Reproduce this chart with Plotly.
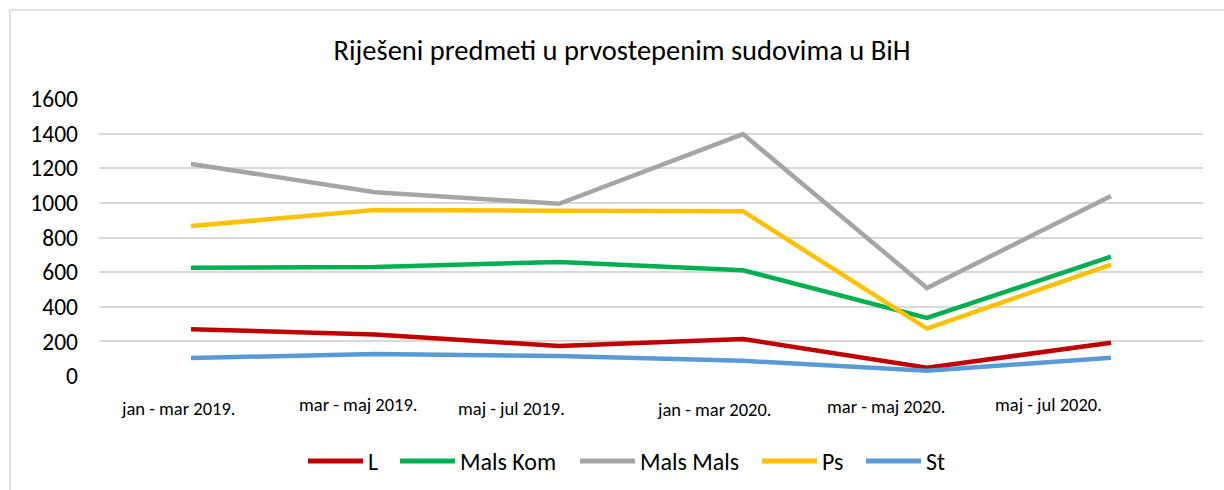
import plotly.graph_objects as go

categories = ["jan - mar 2019.", "mar - maj 2019.", "maj - jul 2019.",
              "jan - mar 2020.", "mar - maj 2020.", "maj - jul 2020."]
L = [270, 240, 173, 214, 48, 192]
mals_kom = [625, 630, 659, 611, 335, 690]
mals_mals = [1225, 1062, 995, 1397, 508, 1040]
ps = [866, 959, 955, 952, 274, 644]
st = [104, 127, 116, 88, 30, 106]
y_ticks = [0, 200, 400, 600, 800, 1000, 1200, 1400, 1600]

series_names = ["L", "Mals Kom", "Mals Mals", "Ps", "St"]
series_values = [L, mals_kom, mals_mals, ps, st]
series_colors = ["#C00000", "#00B050", "#A5A5A5", "#FFC000", "#5B9BD5"]

FONT = "Carlito, Calibri, Open Sans, sans-serif"

W, H = 1224, 490
PL, PT, PR, PB = 99, 99, 1203, 376
PW, PH = PR - PL, PB - PT


def px_x(x):
    return (x - PL) / PW


def px_y(y):
    return (PB - y) / PH


fig = go.Figure()
for name, vals, color in zip(series_names, series_values, series_colors):
    fig.add_trace(go.Scatter(x=categories, y=vals, name=name, mode="lines",
                             line=dict(color=color, width=4.5), showlegend=False))

# category label offsets (px) as in the reference
label_dx = [-13, -17, -48, -29, -41, -63]
label_dy = [32, 28, 32, 33, 30, 28]
annotations = []
for c, dx, dy in zip(categories, label_dx, label_dy):
    annotations.append(dict(x=c, y=0, xref="x", yref="paper", text=c, showarrow=False,
                            xshift=dx, yshift=-dy, yanchor="middle",
                            font=dict(family=FONT, size=18.5, color="#000000")))

# legend drawn like the reference (long line samples)
legend_left = [308, 400, 580, 762, 866]
legend_len = 55
legend_y = 461
shapes = []
for name, color, x0 in zip(series_names, series_colors, legend_left):
    shapes.append(dict(type="line", xref="paper", yref="paper",
                       x0=px_x(x0), x1=px_x(x0 + legend_len),
                       y0=px_y(legend_y), y1=px_y(legend_y),
                       line=dict(color=color, width=5)))
    annotations.append(dict(x=px_x(x0 + legend_len + 3), y=px_y(legend_y),
                            xref="paper", yref="paper", text=name, showarrow=False,
                            xanchor="left", yanchor="middle",
                            font=dict(family=FONT, size=24, color="#000000")))

# outer chart-area border (top and left visible)
shapes.append(dict(type="line", xref="paper", yref="paper",
                   x0=px_x(10), x1=px_x(W + 5), y0=px_y(10), y1=px_y(10),
                   line=dict(color="#D9D9D9", width=1.5)))
shapes.append(dict(type="line", xref="paper", yref="paper",
                   x0=px_x(10), x1=px_x(10), y0=px_y(10), y1=px_y(H + 5),
                   line=dict(color="#D9D9D9", width=1.5)))

fig.update_layout(
    width=W, height=H,
    margin=dict(l=PL, r=W - PR, t=PT, b=H - PB),
    paper_bgcolor="white", plot_bgcolor="white",
    title=dict(text="Riješeni predmeti u prvostepenim sudovima u BiH",
               x=622 / W, xanchor="center", y=1 - 50 / H, yanchor="middle",
               font=dict(family=FONT, size=28.5, color="#000000")),
    font=dict(family=FONT, color="#000000"),
    showlegend=False,
    hovermode=False,
    xaxis=dict(showticklabels=False, showgrid=False, zeroline=False, showline=False,
               range=[-0.5, 5.5]),
    yaxis=dict(range=[0, 1600], tickvals=y_ticks, showgrid=True, gridcolor="#D9D9D9",
               gridwidth=1.5, zeroline=False, showline=False,
               tickfont=dict(family=FONT, size=23.5, color="#000000"),
               ticklabelstandoff=20),
    annotations=annotations,
    shapes=shapes,
)

fig.write_html("out.html",
               config={"displayModeBar": False},
               post_script="document.body.style.margin='0px';"
                           "document.body.style.overflow='hidden';")
